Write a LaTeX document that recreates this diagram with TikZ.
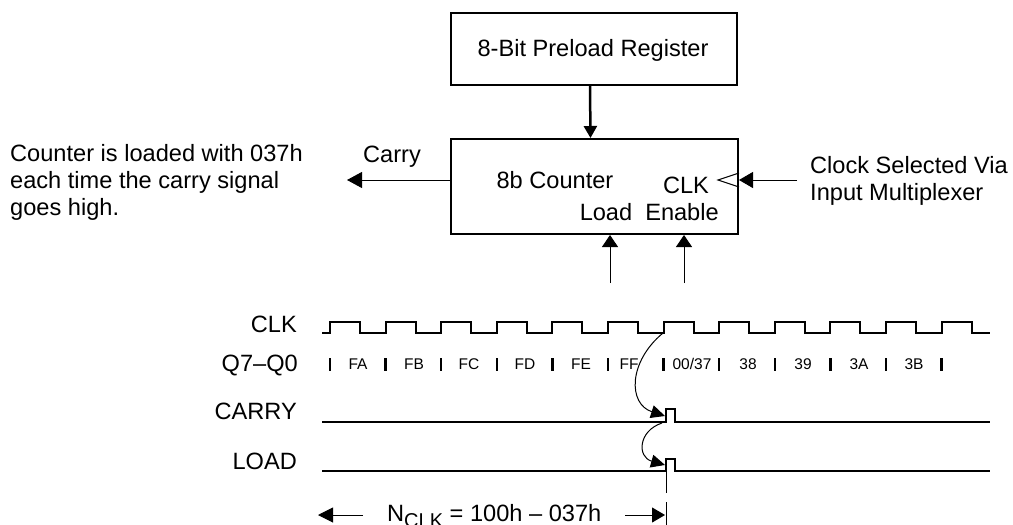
\documentclass[tikz,border=0pt]{standalone}
\usepackage{fontspec}
\setmainfont{Liberation Sans}
\usetikzlibrary{arrows.meta}
\tikzset{
  lbl/.style={font=\fontsize{23.6}{27}\selectfont, inner sep=0pt},
  val/.style={font=\fontsize{15.5}{18}\selectfont, inner sep=0pt, anchor=base},
  blk/.style={draw, line width=2pt, inner sep=0pt},
  wave/.style={line width=2pt},
  tick/.style={line width=2.4pt},
  thinline/.style={line width=1pt},
  bigtip/.style={-{Triangle[length=12pt,width=16pt]}},
  fatarrow/.style={line width=2.5pt,-{Triangle[length=12pt,width=13pt]}},
  curvetip/.style={-{Triangle[length=14pt,width=13pt]}},
}
\begin{document}
\begin{tikzpicture}[x=1pt,y=-1pt]
\useasboundingbox (0,0) rectangle (1013,525);
\fill[white] (0,0) rectangle (1013,525);

% blocks
\node[blk, minimum width=286pt, minimum height=72pt] (preload) at (594,49) {};
\node[lbl, anchor=base] (preloadtxt) at (593,56) {8-Bit Preload Register};
\node[blk, minimum width=287pt, minimum height=95pt] (counter) at (594.5,186.5) {};
\node[lbl, anchor=base] (cnttxt) at (555,188) {8b Counter};
\node[lbl, anchor=base] (clktxt) at (686,193) {CLK};
\node[lbl, anchor=base] (loadtxt) at (606,220) {Load};
\node[lbl, anchor=base] (enatxt) at (682,220) {Enable};

% connectors of the block diagram
\draw[fatarrow] ([xshift=-4pt]preload.south) -- ([xshift=-4pt]counter.north);
\coordinate (carryend) at (347,180);
\draw[thinline, -{Triangle[length=15pt,width=16pt]}] ([yshift=6.5pt]counter.west) -- (carryend);
\node[lbl, anchor=base] (carrytxt) at (392,162) {Carry};
\coordinate (clkin) at (797,180);
\draw[thinline, -{Triangle[length=14pt,width=16pt]}] (clkin) -- ([yshift=6.5pt]counter.east);
\draw[thinline] ([yshift=13.5pt]counter.east) -- ++(-21,7) -- ++(21,7);
\coordinate (loadsrc) at (610,283);
\coordinate (enasrc) at (684,283);
\draw[thinline, bigtip] (loadsrc) -- (loadsrc |- counter.south);
\draw[thinline, bigtip] (enasrc) -- (enasrc |- counter.south);

% notes
\node[lbl, anchor=base west] (note1) at (10,161) {Counter is loaded with 037h};
\node[lbl, anchor=base west] (note2) at (10,188) {each time the carry signal};
\node[lbl, anchor=base west] (note3) at (10,215) {goes high.};
\node[lbl, anchor=base west] (clknote1) at (810,173) {Clock Selected Via};
\node[lbl, anchor=base west] (clknote2) at (810,200) {Input Multiplexer};

% timing labels
\node[lbl, anchor=base east] (lclk) at (297,332) {CLK};
\node[lbl, anchor=base east] (lq) at (298,371) {Q7–Q0};
\node[lbl, anchor=base east] (lcarry) at (297,419) {CARRY};
\node[lbl, anchor=base east] (lload) at (297,469) {LOAD};

% clock waveform
\draw[wave] (322,333) foreach \k in {0,...,11} {
  -- ({330+55.6*\k},333) -- ({330+55.6*\k},322) -- ({360+55.6*\k},322) -- ({360+55.6*\k},333) }
  -- (990,333);

% Q7-Q0 ticks and values
\foreach \k in {0,...,11} \draw[tick] ({330+55.6*\k},358) -- ++(0,13);
\node[val] (vfa) at (358,369) {FA};
\node[val] (vfb) at (414,369) {FB};
\node[val] (vfc) at (469,369) {FC};
\node[val] (vfd) at (525,369) {FD};
\node[val] (vfe) at (581,369) {FE};
\node[val] (vff) at (629,369) {FF};
\node[val] (v00) at (692,369) {00/37};
\node[val] (v38) at (748,369) {38};
\node[val] (v39) at (803,369) {39};
\node[val] (v3a) at (859,369) {3A};
\node[val] (v3b) at (914,369) {3B};

% CARRY and LOAD
\draw[wave] (322,422) -- (666,422) -- (666,409) -- (675,409) -- (675,422) -- (990,422);
\draw[wave] (322,471) -- (666,471) -- (666,459) -- (675,459) -- (675,471) -- (990,471);

% causal curves
\coordinate (clkedge) at (663,333);
\coordinate (carrypulse) at (665,416);
\coordinate (carrybase) at (662,423);
\coordinate (loadpulse) at (665,465);
\draw[thinline, curvetip] (clkedge) .. controls (628,362) and (628,404) .. (carrypulse);
\draw[thinline, curvetip] (carrybase) .. controls (638,431) and (637,457) .. (loadpulse);

% dimension
\coordinate (d1) at (666,467);
\coordinate (d2) at (666,493);
\coordinate (d3) at (666,502);
\coordinate (d4) at (666,526);
\draw[thinline] (d1) -- (d2);
\draw[thinline] (d3) -- (d4);
\coordinate (la) at (363,515);
\coordinate (lt) at (318,515);
\coordinate (ra) at (625,515);
\coordinate (rt) at (665,515);
\draw[thinline, -{Triangle[length=15pt,width=15pt]}] (la) -- (lt);
\draw[thinline, -{Triangle[length=13pt,width=15pt]}] (ra) -- (rt);
\node[lbl, anchor=base west] (nclk) at (387,521) {N\raisebox{-6pt}{\fontsize{20}{20}\selectfont CLK} = 100h – 037h};
\end{tikzpicture}
\end{document}
